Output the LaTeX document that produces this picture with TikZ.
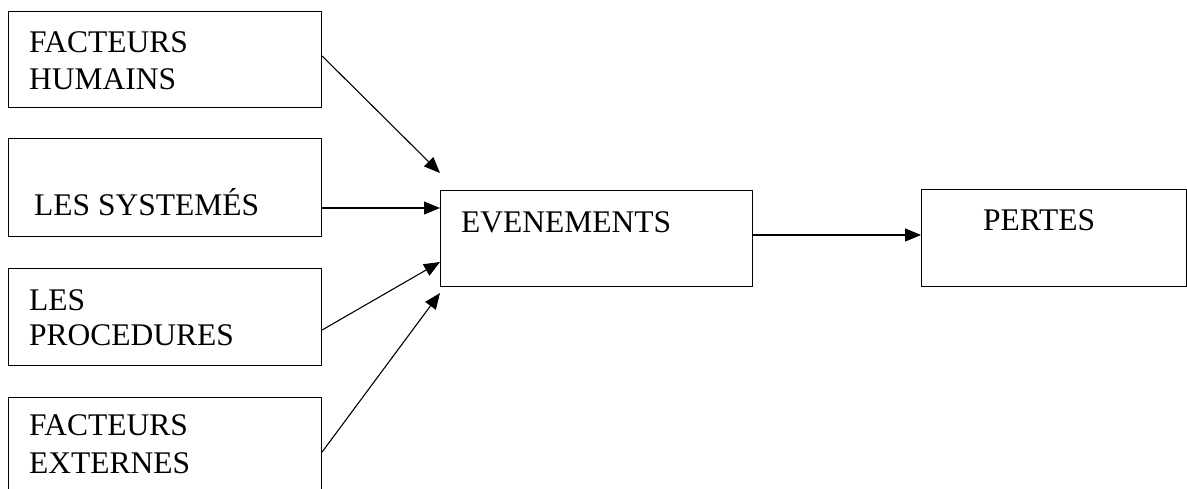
\documentclass[tikz,border=0pt]{standalone}
\usepackage{fontspec}
\setmainfont{Liberation Serif}
\usetikzlibrary{arrows.meta}
\begin{document}
\begin{tikzpicture}[x=1pt,y=-1pt,
  box/.style={draw,line width=1.1pt,rectangle,inner sep=0pt,anchor=north west},
  lbl/.style={anchor=base west,inner sep=0pt,font=\fontsize{31.5}{36}\selectfont},
  arr/.style={line width=1.1pt,-{Triangle[length=16pt,width=13pt]}}]
\useasboundingbox (0,0) rectangle (1187,488);
% boxes
\node[box,minimum width=313pt,minimum height=96pt] (b1) at (8,11) {};
\node[box,minimum width=313pt,minimum height=98pt] (b2) at (8,138) {};
\node[box,minimum width=313pt,minimum height=97pt] (b3) at (8,268) {};
\node[box,minimum width=313pt,minimum height=110pt] (b4) at (8,397) {};
\node[box,minimum width=312pt,minimum height=96pt] (ev) at (440,190) {};
\node[box,minimum width=265pt,minimum height=97pt] (pe) at (921,189) {};
% texts
\node[lbl] (t1a) at (29,52) {FACTEURS};
\node[lbl] (t1b) at (29,89) {HUMAINS};
\node[lbl] (t2) at (34,215) {LES SYSTEMÉS};
\node[lbl] (t3a) at (29,310) {LES};
\node[lbl] (t3b) at (29,345) {PROCEDURES};
\node[lbl] (t4a) at (29,435) {FACTEURS};
\node[lbl] (t4b) at (29,473) {EXTERNES};
\node[lbl] (tev) at (461,232) {EVENEMENTS};
\node[lbl] (tpe) at (983,230) {PERTES};
% arrow ends
\coordinate (e1) at (440,173);
\coordinate (e2) at (440,208);
\coordinate (e3) at (440,262);
\coordinate (e4) at (440,293);
\draw[arr] (b1.east |- 0,56) -- (e1);
\draw[arr] (b2.east |- 0,208) -- (e2);
\draw[arr] (b3.east |- 0,330) -- (e3);
\draw[arr] (b4.east |- 0,452) -- (e4);
\draw[arr] (ev.east |- 0,235) -- (pe.west |- 0,235);
\end{tikzpicture}
\end{document}
